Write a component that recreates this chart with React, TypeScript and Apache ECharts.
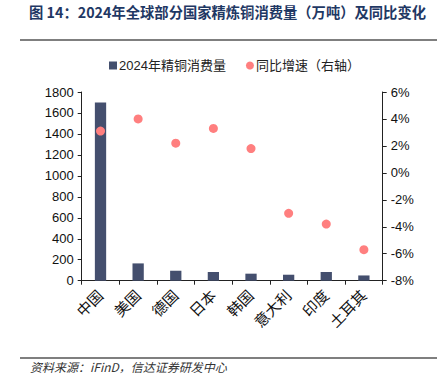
import React, { useEffect, useRef } from "react";
import * as echarts from "echarts";

const categories = ["中国", "美国", "德国", "日本", "韩国", "意大利", "印度", "土耳其"];
const consumption = [1700, 165, 95, 83, 67, 57, 83, 50];
const yoyGrowth = [3.1, 4.0, 2.2, 3.3, 1.8, -3.0, -3.8, -5.7];
const leftTicks = { min: 0, max: 1800, interval: 200 };
const rightTicks = { min: -8, max: 6, interval: 2 };
const titleText = "图 14：2024年全球部分国家精炼铜消费量（万吨）及同比变化";
const sourceText = "资料来源：iFinD，信达证券研发中心";
const barName = "2024年精铜消费量";
const dotName = "同比增速（右轴）";

export default function App() {
  const ref = useRef<HTMLDivElement>(null);
  useEffect(() => {
    if (!ref.current) return;
    const chart = echarts.init(ref.current, null, { renderer: "svg" });
    const font = "Arial, 'Liberation Sans', 'Noto Sans CJK SC', sans-serif";
    chart.setOption({
      animation: false,
      textStyle: { fontFamily: font },
      graphic: [
        {
          type: "text",
          left: 29,
          top: 4,
          style: {
            text: titleText,
            fontSize: 14.3,
            fontWeight: "bold",
            fill: "#1F3864",
            fontFamily: "'Noto Sans CJK SC', sans-serif",
          },
        },
        {
          type: "line",
          shape: { x1: 20, y1: 40, x2: 437, y2: 40 },
          style: { stroke: "#000", lineWidth: 1.2 },
        },
        {
          type: "line",
          shape: { x1: 20, y1: 358, x2: 437, y2: 358 },
          style: { stroke: "#000", lineWidth: 1.2 },
        },
        {
          type: "text",
          left: 30,
          top: 360,
          style: {
            text: sourceText,
            fontSize: 12,
            fontStyle: "italic",
            fill: "#333",
            fontFamily: "'Noto Sans CJK SC', sans-serif",
          },
        },
      ],
      legend: {
        left: 104,
        top: 54,
        itemGap: 20,
        itemWidth: 8,
        itemHeight: 8,
        textStyle: { fontSize: 13, color: "#222", fontFamily: font, padding: [0, 0, 0, -3] },
        data: [
          { name: barName, icon: "rect" },
          { name: dotName, icon: "circle" },
        ],
      },
      grid: { left: 81.7, right: 54.3, top: 92, bottom: 106.3, containLabel: false },
      xAxis: {
        type: "category",
        data: categories,
        axisLine: { lineStyle: { color: "#222" } },
        axisTick: { show: true, alignWithLabel: false, length: 4, lineStyle: { color: "#222" } },
        axisLabel: { rotate: 45, fontSize: 15, color: "#111", margin: 12, interval: 0 },
      },
      yAxis: [
        {
          type: "value",
          min: leftTicks.min,
          max: leftTicks.max,
          interval: leftTicks.interval,
          splitLine: { show: false },
          axisLine: { show: true, lineStyle: { color: "#222" } },
          axisTick: { show: true, length: 4, lineStyle: { color: "#222" } },
          axisLabel: { fontSize: 13, color: "#111", margin: 8, formatter: (v: number) => String(v) },
        },
        {
          type: "value",
          position: "right",
          min: rightTicks.min,
          max: rightTicks.max,
          interval: rightTicks.interval,
          splitLine: { show: false },
          axisLine: { show: true, lineStyle: { color: "#222" } },
          axisTick: { show: true, length: 4, lineStyle: { color: "#222" } },
          axisLabel: { fontSize: 13, color: "#111", margin: 8, formatter: (v: number) => v + "%" },
        },
      ],
      series: [
        {
          name: barName,
          type: "bar",
          data: consumption,
          barWidth: "30%",
          itemStyle: { color: "#444F6E" },
          yAxisIndex: 0,
        },
        {
          name: dotName,
          type: "scatter",
          data: yoyGrowth,
          yAxisIndex: 1,
          symbolSize: 9,
          itemStyle: { color: "#FF7F7F", opacity: 1 },
        },
      ],
    });
    return () => chart.dispose();
  }, []);
  return (
    <div
      ref={ref}
      style={{ position: "absolute", left: 0, top: 0, width: 437, height: 387, background: "#fff" }}
    />
  );
}
